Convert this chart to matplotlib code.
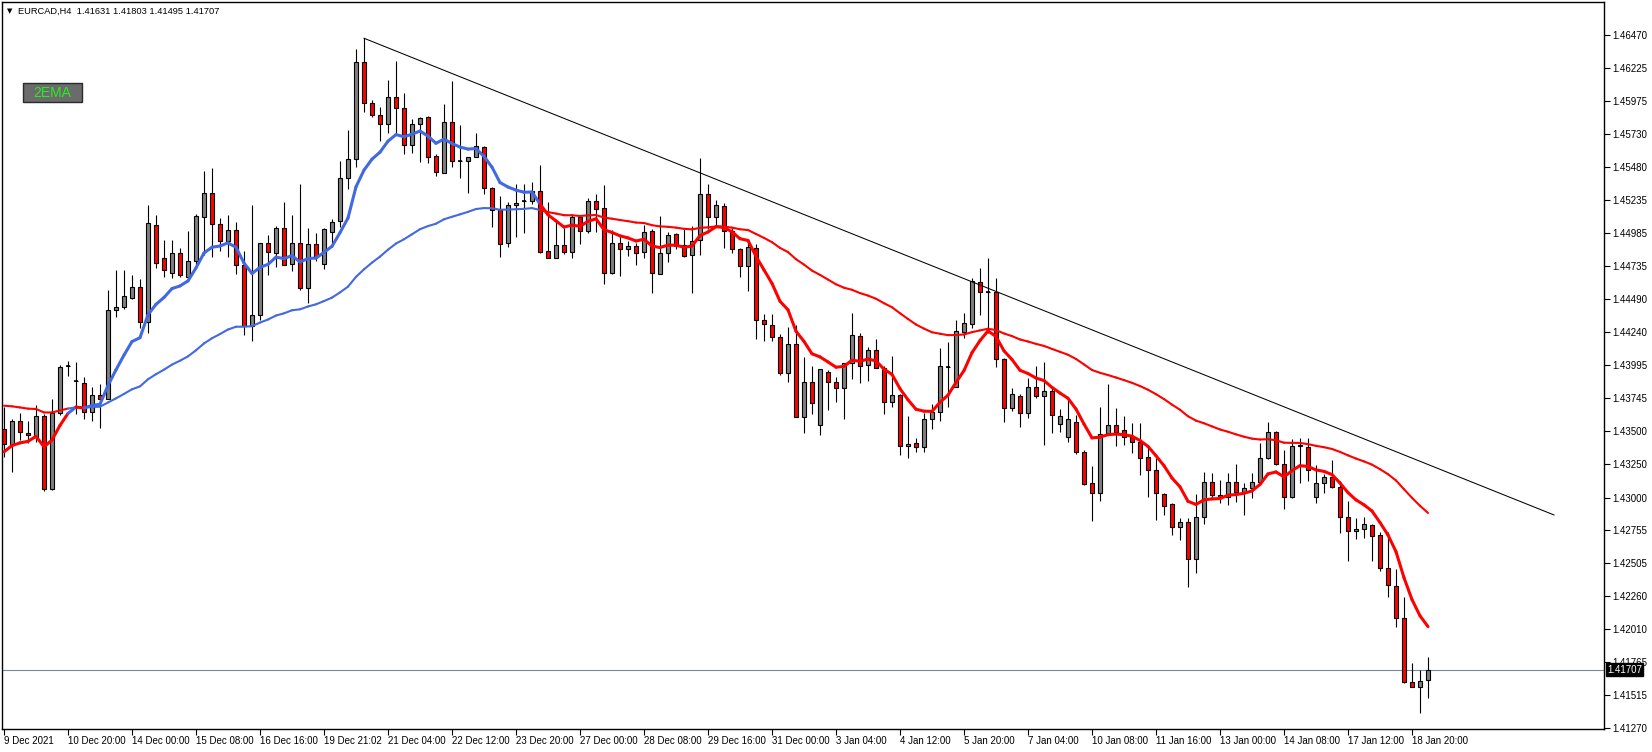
import numpy as np
import matplotlib
matplotlib.use("Agg")
import matplotlib.pyplot as plt
from matplotlib.patches import Rectangle
from matplotlib.collections import LineCollection
import matplotlib.transforms as mtransforms

plt.rcParams['font.family'] = ['Liberation Sans', 'DejaVu Sans']

W, H = 1652, 752

# EURCAD H4 candles
opens = [
    1.43512, 1.43402, 1.43577, 1.43484, 1.43457, 1.43612, 1.43067, 1.43632, 1.43987, 1.43872,
    1.43857, 1.43640, 1.43767, 1.43737, 1.44405, 1.44427, 1.44495, 1.44577, 1.44315, 1.45045,
    1.44797, 1.44687, 1.44833, 1.44658, 1.44771, 1.45108, 1.45283, 1.45053, 1.44928, 1.45006,
    1.44743, 1.44288, 1.44368, 1.44908, 1.44833, 1.45021, 1.44751, 1.44908, 1.44571, 1.44901,
    1.44751, 1.44993, 1.45071, 1.45396, 1.45538, 1.46266, 1.45958, 1.45868, 1.45801, 1.46003,
    1.45921, 1.45643, 1.45801, 1.45853, 1.45563, 1.45438, 1.45816, 1.45523, 1.45523, 1.45558,
    1.45628, 1.45321, 1.45158, 1.44908, 1.45193, 1.45228, 1.45223, 1.45298, 1.44847, 1.44795,
    1.44892, 1.44845, 1.45102, 1.44997, 1.45222, 1.45170, 1.44682, 1.44907, 1.44867, 1.44885,
    1.44840, 1.44997, 1.44675, 1.44832, 1.44975, 1.44892, 1.44817, 1.44930, 1.45277, 1.45102,
    1.45187, 1.44999, 1.44862, 1.44735, 1.44870, 1.44330, 1.44292, 1.44202, 1.43932, 1.44150,
    1.43607, 1.43865, 1.43545, 1.43940, 1.43865, 1.43820, 1.44007, 1.44212, 1.43992, 1.44105,
    1.43970, 1.43715, 1.43767, 1.43386, 1.43407, 1.43379, 1.43587, 1.43640, 1.43982, 1.43832,
    1.44245, 1.44300, 1.44620, 1.44540, 1.44540, 1.44037, 1.43670, 1.43765, 1.43632, 1.43832,
    1.43762, 1.43802, 1.43550, 1.43457, 1.43565, 1.43340, 1.43107, 1.43032, 1.43482, 1.43545,
    1.43505, 1.43452, 1.43415, 1.43302, 1.43207, 1.43027, 1.42950, 1.42777, 1.42815, 1.42537,
    1.42850, 1.43115, 1.43022, 1.43002, 1.43120, 1.43040, 1.43070, 1.43118, 1.43293, 1.43493,
    1.43249, 1.43006, 1.43386, 1.43381, 1.43001, 1.43106, 1.43151, 1.43076, 1.42856, 1.42748,
    1.42763, 1.42791, 1.42718, 1.42468, 1.42336, 1.42093, 1.41618, 1.41581, 1.41631,
]
highs = [
    1.43682, 1.43587, 1.43632, 1.43572, 1.43695, 1.43625, 1.43737, 1.43992, 1.44025, 1.44015,
    1.43902, 1.43827, 1.43850, 1.44557, 1.44707, 1.44707, 1.44670, 1.44637, 1.45195, 1.45120,
    1.44932, 1.44932, 1.44871, 1.44996, 1.45128, 1.45451, 1.45476, 1.45096, 1.45121, 1.45068,
    1.44851, 1.45196, 1.44913, 1.44971, 1.45038, 1.45216, 1.45121, 1.45353, 1.45021, 1.44988,
    1.45021, 1.45091, 1.45526, 1.45758, 1.46366, 1.46446, 1.45983, 1.45928, 1.46133, 1.46276,
    1.46038, 1.45838, 1.45858, 1.45863, 1.45576, 1.45953, 1.46126, 1.45796, 1.45558, 1.45738,
    1.45638, 1.45333, 1.45263, 1.45221, 1.45353, 1.45353, 1.45371, 1.45496, 1.45215, 1.45070,
    1.45020, 1.45127, 1.45120, 1.45250, 1.45277, 1.45345, 1.45007, 1.44962, 1.44925, 1.44907,
    1.45045, 1.45012, 1.45112, 1.44990, 1.44982, 1.45012, 1.45040, 1.45545, 1.45352, 1.45232,
    1.45210, 1.45020, 1.44875, 1.44937, 1.44902, 1.44375, 1.44375, 1.44225, 1.44277, 1.44295,
    1.44055, 1.43990, 1.43967, 1.43957, 1.43902, 1.44012, 1.44382, 1.44237, 1.44132, 1.44187,
    1.43987, 1.44062, 1.43780, 1.43612, 1.43445, 1.43632, 1.43700, 1.44120, 1.44170, 1.44332,
    1.44382, 1.44645, 1.44720, 1.44800, 1.44645, 1.44045, 1.43820, 1.43775, 1.43895, 1.43987,
    1.44015, 1.43825, 1.43665, 1.43737, 1.43620, 1.43357, 1.43237, 1.43682, 1.43852, 1.43670,
    1.43612, 1.43557, 1.43562, 1.43387, 1.43295, 1.43037, 1.42957, 1.42845, 1.42845, 1.43025,
    1.43195, 1.43187, 1.43132, 1.43187, 1.43250, 1.43107, 1.43182, 1.43411, 1.43568, 1.43498,
    1.43356, 1.43436, 1.43443, 1.43443, 1.43243, 1.43173, 1.43281, 1.43126, 1.42973, 1.42843,
    1.42851, 1.42798, 1.42738, 1.42743, 1.42463, 1.42256, 1.41756, 1.41706, 1.41803,
]
lows = [
    1.43307, 1.43195, 1.43432, 1.43412, 1.43420, 1.43047, 1.43057, 1.43617, 1.43915, 1.43627,
    1.43587, 1.43577, 1.43520, 1.43737, 1.44352, 1.44417, 1.44487, 1.44275, 1.44237, 1.44722,
    1.44652, 1.44645, 1.44653, 1.44646, 1.44733, 1.44821, 1.44801, 1.44846, 1.44808, 1.44676,
    1.44218, 1.44171, 1.44333, 1.44666, 1.44726, 1.44743, 1.44696, 1.44556, 1.44458, 1.44771,
    1.44718, 1.44883, 1.45028, 1.45318, 1.45483, 1.45896, 1.45853, 1.45678, 1.45733, 1.45728,
    1.45576, 1.45583, 1.45516, 1.45508, 1.45416, 1.45433, 1.45478, 1.45396, 1.45283, 1.45553,
    1.45276, 1.45026, 1.44808, 1.44876, 1.44958, 1.44988, 1.45203, 1.44837, 1.44795, 1.44795,
    1.44825, 1.44795, 1.44900, 1.44982, 1.44995, 1.44602, 1.44675, 1.44665, 1.44812, 1.44745,
    1.44795, 1.44537, 1.44675, 1.44770, 1.44865, 1.44807, 1.44537, 1.44820, 1.45015, 1.45027,
    1.44870, 1.44837, 1.44657, 1.44552, 1.44192, 1.44177, 1.44177, 1.43920, 1.43870, 1.43602,
    1.43487, 1.43625, 1.43470, 1.43657, 1.43720, 1.43592, 1.43890, 1.43862, 1.43877, 1.43970,
    1.43625, 1.43682, 1.43319, 1.43296, 1.43341, 1.43341, 1.43512, 1.43577, 1.43682, 1.43832,
    1.44200, 1.44270, 1.44370, 1.44232, 1.43982, 1.43570, 1.43652, 1.43532, 1.43595, 1.43745,
    1.43395, 1.43482, 1.43490, 1.43420, 1.43327, 1.43095, 1.42827, 1.42977, 1.43482, 1.43390,
    1.43395, 1.43332, 1.43170, 1.43007, 1.42832, 1.42870, 1.42720, 1.42682, 1.42332, 1.42437,
    1.42802, 1.42987, 1.42962, 1.42945, 1.42970, 1.42870, 1.43000, 1.43106, 1.43286, 1.43243,
    1.42911, 1.42993, 1.43111, 1.43126, 1.42956, 1.43036, 1.43068, 1.42736, 1.42526, 1.42686,
    1.42698, 1.42526, 1.42451, 1.42251, 1.42031, 1.41611, 1.41576, 1.41381, 1.41495,
]
closes = [
    1.43402, 1.43577, 1.43490, 1.43467, 1.43610, 1.43067, 1.43632, 1.43982, 1.43990, 1.43872,
    1.43640, 1.43767, 1.43737, 1.44405, 1.44427, 1.44510, 1.44577, 1.44315, 1.45060, 1.44762,
    1.44707, 1.44835, 1.44666, 1.44776, 1.45113, 1.45283, 1.45051, 1.44923, 1.45006, 1.44743,
    1.44288, 1.44368, 1.44908, 1.44841, 1.45021, 1.44748, 1.44908, 1.44571, 1.44901, 1.44808,
    1.45013, 1.45066, 1.45396, 1.45538, 1.46266, 1.45958, 1.45868, 1.45801, 1.46003, 1.45921,
    1.45643, 1.45801, 1.45846, 1.45558, 1.45443, 1.45816, 1.45523, 1.45523, 1.45553, 1.45638,
    1.45321, 1.45156, 1.44901, 1.45196, 1.45213, 1.45228, 1.45298, 1.44845, 1.44795, 1.44892,
    1.44845, 1.45102, 1.44999, 1.45222, 1.45167, 1.44682, 1.44907, 1.44862, 1.44885, 1.44832,
    1.44990, 1.44682, 1.44832, 1.44967, 1.44890, 1.44815, 1.44925, 1.45277, 1.45102, 1.45192,
    1.44999, 1.44865, 1.44735, 1.44877, 1.44332, 1.44300, 1.44202, 1.43937, 1.44150, 1.43607,
    1.43865, 1.43707, 1.43962, 1.43865, 1.43820, 1.44007, 1.44217, 1.43990, 1.44105, 1.43970,
    1.43715, 1.43767, 1.43386, 1.43400, 1.43379, 1.43590, 1.43640, 1.43987, 1.43982, 1.44247,
    1.44307, 1.44625, 1.44540, 1.44540, 1.44040, 1.43670, 1.43775, 1.43632, 1.43832, 1.43762,
    1.43802, 1.43620, 1.43615, 1.43587, 1.43340, 1.43102, 1.43032, 1.43475, 1.43545, 1.43495,
    1.43452, 1.43415, 1.43300, 1.43205, 1.43032, 1.42940, 1.42777, 1.42815, 1.42537, 1.42855,
    1.43120, 1.43017, 1.43002, 1.43120, 1.43040, 1.43070, 1.43120, 1.43293, 1.43493, 1.43251,
    1.43006, 1.43388, 1.43391, 1.43206, 1.43106, 1.43151, 1.43076, 1.42856, 1.42748, 1.42763,
    1.42798, 1.42713, 1.42468, 1.42343, 1.42093, 1.41618, 1.41576, 1.41626, 1.41707,
]

date_labels = ["9 Dec 2021", "10 Dec 20:00", "14 Dec 00:00", "15 Dec 08:00", "16 Dec 16:00",
               "19 Dec 21:02", "21 Dec 04:00", "22 Dec 12:00", "23 Dec 20:00", "27 Dec 00:00",
               "28 Dec 08:00", "29 Dec 16:00", "31 Dec 00:00", "3 Jan 04:00", "4 Jan 12:00",
               "5 Jan 20:00", "7 Jan 04:00", "10 Jan 08:00", "11 Jan 16:00", "13 Jan 00:00",
               "14 Jan 08:00", "17 Jan 12:00", "18 Jan 20:00"]
label_step = 8

price_ticks = [1.46470, 1.46225, 1.45975, 1.45730, 1.45480, 1.45235, 1.44985, 1.44735,
               1.44490, 1.44240, 1.43995, 1.43745, 1.43500, 1.43250, 1.43000, 1.42755,
               1.42505, 1.42260, 1.42010, 1.41765, 1.41515, 1.41270]

# 2EMA indicator: periods and the values at the first visible bar
fast_period, slow_period = 9, 45
fast_start, slow_start = 1.43343, 1.43689

# trend line anchors (bar index, price)
trend_x = [45, 193.75]
trend_y = [1.46446, 1.42869]

symbol = "EURCAD,H4"
last_price = closes[-1]


def ema(values, period, seed):
    a = 2.0 / (period + 1)
    out = [seed]
    for v in values[1:]:
        out.append(out[-1] + a * (v - out[-1]))
    return np.array(out)


o = np.array(opens); h = np.array(highs); l = np.array(lows); c = np.array(closes)
x = np.arange(len(c))
fast = ema(c, fast_period, fast_start)
slow = ema(c, slow_period, slow_start)

fig = plt.figure(figsize=(W / 100, H / 100), dpi=100)
fig.patch.set_facecolor("white")
ax = fig.add_axes([2 / W, (H - 729) / H, 1602 / W, 727 / H])
ax.set_xlim(-0.25, 200.0)
ax.set_ylim(1.41263, 1.46718)

ax.axhline(last_price, color="#7a8a9a", lw=0.8, zorder=0.5)

# candles
ax.vlines(x, l, h, color="black", lw=0.8, zorder=1)
up = c >= o
body_lo = np.minimum(o, c)
body_h = np.abs(c - o)
ax.bar(x[up], body_h[up], bottom=body_lo[up], width=0.45, color="#808080",
       edgecolor="black", linewidth=0.8, zorder=2)
ax.bar(x[~up], body_h[~up], bottom=body_lo[~up], width=0.45, color="#ff0000",
       edgecolor="black", linewidth=0.8, zorder=2)
doji = body_h < 0.00003
ax.hlines(o[doji], x[doji] - 0.28, x[doji] + 0.28, color="black", lw=1.2, zorder=2.1)

# EMA lines coloured by state
state = fast > slow
seg_cols = ["#4169e1" if state[i] else "#ff0000" for i in range(1, len(c))]
for vals, lw in ((slow, 1.5), (fast, 2.2)):
    segs = [[(x[i - 1], vals[i - 1]), (x[i], vals[i])] for i in range(1, len(c))]
    lc = LineCollection(segs, colors=seg_cols, linewidths=lw, capstyle="round", zorder=3)
    ax.add_collection(lc)

ax.plot(trend_x, trend_y, color="black", lw=0.75, zorder=4)

# axes look
for s in ax.spines.values():
    s.set_color("black")
    s.set_linewidth(1.0)
ax.yaxis.tick_right()
ax.set_yticks(price_ticks)
ax.set_yticklabels(["%.5f" % p for p in price_ticks])
ax.tick_params(axis="y", direction="out", length=4, width=0.8, labelsize=7, pad=2)
xt = x[::label_step][:len(date_labels)]
ax.set_xticks(xt)
ax.set_xticklabels(date_labels)
ax.tick_params(axis="x", direction="out", length=4, width=0.8, labelsize=7, pad=1)
for t in ax.get_xticklabels():
    t.set_horizontalalignment("left")

# current price box
trans = mtransforms.blended_transform_factory(ax.transAxes, ax.transData)
ax.text(1.0 + 3 / 1602, last_price, "%.5f" % last_price, transform=trans, ha="left",
        va="center", fontsize=7, color="white", zorder=10, clip_on=False,
        bbox=dict(boxstyle="square,pad=0.15", fc="black", ec="black"))

# header
fig.text(7 / W, 1 - 11 / H, "\u25bc", fontsize=5, va="center", ha="left",
         family=["DejaVu Sans"])
fig.text(18 / W, 1 - 11 / H, "%s  %.5f %.5f %.5f %.5f" % (symbol, opens[-1], highs[-1], lows[-1], closes[-1]),
         fontsize=6.7, va="center", ha="left")

# 2EMA button
fig.add_artist(Rectangle((23 / W, 1 - 102 / H), 59 / W, 19 / H, transform=fig.transFigure,
                         fc="#6b6b6b", ec="#2a2a2a", lw=1))
fig.text(52.5 / W, 1 - 93 / H, "2EMA", fontsize=10, color="#22f022", ha="center", va="center")

fig.savefig("out.png", dpi=100)
